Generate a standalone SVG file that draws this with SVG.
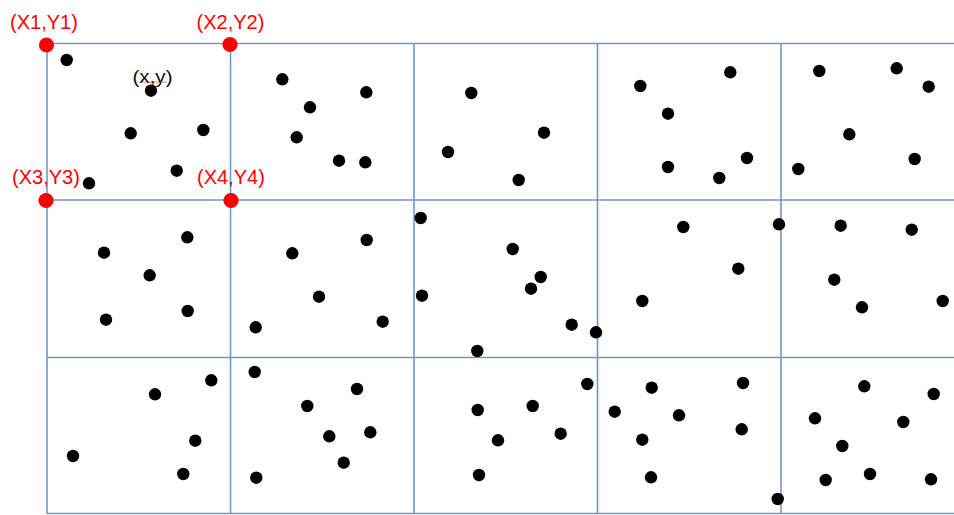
<svg xmlns="http://www.w3.org/2000/svg" width="954" height="515" viewBox="0 0 954 515">
<style>
.grid{stroke:#7096cb;stroke-width:1.6;fill:none}
.pt{fill:#000}
.corner{fill:#ff0000}
.lbl{font-family:"Liberation Sans",Arial,sans-serif;font-size:20px;fill:#ff0000;text-anchor:middle}
.xy{font-family:"Liberation Sans",Arial,sans-serif;font-size:18px;fill:#111;text-anchor:middle}
</style>
<rect width="954" height="515" fill="#fff"/>
<g id="grid" class="grid">
<line x1="47" y1="43.5" x2="954" y2="43.5"/>
<line x1="47" y1="200" x2="954" y2="200"/>
<line x1="47" y1="357.5" x2="954" y2="357.5"/>
<line x1="47" y1="513.5" x2="954" y2="513.5"/>
<line x1="47" y1="43.5" x2="47" y2="514"/>
<line x1="230.5" y1="43.5" x2="230.5" y2="514"/>
<line x1="414" y1="43.5" x2="414" y2="514"/>
<line x1="597.5" y1="43.5" x2="597.5" y2="514"/>
<line x1="781" y1="43.5" x2="781" y2="514"/>
</g>
<g id="points" class="pt">
<circle cx="66.7" cy="60" r="6.2"/>
<circle cx="151" cy="90.7" r="6.2"/>
<circle cx="130.7" cy="133.3" r="6.2"/>
<circle cx="203.3" cy="130" r="6.2"/>
<circle cx="176.7" cy="170.7" r="6.2"/>
<circle cx="89" cy="183.3" r="6.2"/>
<circle cx="282.3" cy="79.3" r="6.2"/>
<circle cx="310" cy="107.3" r="6.2"/>
<circle cx="296.7" cy="137.3" r="6.2"/>
<circle cx="366.3" cy="92.3" r="6.2"/>
<circle cx="339" cy="160.7" r="6.2"/>
<circle cx="365.3" cy="162.3" r="6.2"/>
<circle cx="471.3" cy="93" r="6.2"/>
<circle cx="544" cy="132.7" r="6.2"/>
<circle cx="448" cy="152" r="6.2"/>
<circle cx="518.7" cy="180" r="6.2"/>
<circle cx="420.7" cy="218" r="6.2"/>
<circle cx="366.7" cy="240" r="6.2"/>
<circle cx="319" cy="296.7" r="6.2"/>
<circle cx="382.7" cy="321.7" r="6.2"/>
<circle cx="422" cy="295.7" r="6.2"/>
<circle cx="512.7" cy="249" r="6.2"/>
<circle cx="540.7" cy="277" r="6.2"/>
<circle cx="531" cy="288.7" r="6.2"/>
<circle cx="571.7" cy="324.7" r="6.2"/>
<circle cx="596" cy="332.3" r="6.2"/>
<circle cx="477.3" cy="351" r="6.2"/>
<circle cx="187.3" cy="237.3" r="6.2"/>
<circle cx="104" cy="252.7" r="6.2"/>
<circle cx="149.7" cy="275.3" r="6.2"/>
<circle cx="106" cy="319.7" r="6.2"/>
<circle cx="187.7" cy="311" r="6.2"/>
<circle cx="292.3" cy="253.3" r="6.2"/>
<circle cx="255.7" cy="327.3" r="6.2"/>
<circle cx="211.3" cy="380.3" r="6.2"/>
<circle cx="155" cy="394.3" r="6.2"/>
<circle cx="195.3" cy="440.7" r="6.2"/>
<circle cx="73" cy="456" r="6.2"/>
<circle cx="183.3" cy="474" r="6.2"/>
<circle cx="254.7" cy="372" r="6.2"/>
<circle cx="307.3" cy="406" r="6.2"/>
<circle cx="256.3" cy="477.7" r="6.2"/>
<circle cx="357" cy="389" r="6.2"/>
<circle cx="329.3" cy="436.3" r="6.2"/>
<circle cx="370.3" cy="432.3" r="6.2"/>
<circle cx="343.7" cy="462.7" r="6.2"/>
<circle cx="587.3" cy="384" r="6.2"/>
<circle cx="477.7" cy="410" r="6.2"/>
<circle cx="532.7" cy="406" r="6.2"/>
<circle cx="498" cy="440.3" r="6.2"/>
<circle cx="560.7" cy="433.7" r="6.2"/>
<circle cx="479" cy="475" r="6.2"/>
<circle cx="614.7" cy="411.7" r="6.2"/>
<circle cx="730.3" cy="72.3" r="6.2"/>
<circle cx="640.3" cy="86" r="6.2"/>
<circle cx="668" cy="113.7" r="6.2"/>
<circle cx="668" cy="167" r="6.2"/>
<circle cx="747" cy="158" r="6.2"/>
<circle cx="719.3" cy="178" r="6.2"/>
<circle cx="819.3" cy="71" r="6.2"/>
<circle cx="896.7" cy="68.3" r="6.2"/>
<circle cx="928.7" cy="86.7" r="6.2"/>
<circle cx="849.3" cy="134.3" r="6.2"/>
<circle cx="914.7" cy="159" r="6.2"/>
<circle cx="798.3" cy="169" r="6.2"/>
<circle cx="683.3" cy="227" r="6.2"/>
<circle cx="779" cy="224.3" r="6.2"/>
<circle cx="738.3" cy="268.7" r="6.2"/>
<circle cx="642.3" cy="301" r="6.2"/>
<circle cx="840.7" cy="225.7" r="6.2"/>
<circle cx="911.7" cy="229.7" r="6.2"/>
<circle cx="834.3" cy="279.7" r="6.2"/>
<circle cx="862" cy="307.3" r="6.2"/>
<circle cx="942.7" cy="301" r="6.2"/>
<circle cx="651.7" cy="387.7" r="6.2"/>
<circle cx="679" cy="415.3" r="6.2"/>
<circle cx="642.3" cy="439.7" r="6.2"/>
<circle cx="651" cy="477.3" r="6.2"/>
<circle cx="743" cy="383" r="6.2"/>
<circle cx="741.7" cy="429.3" r="6.2"/>
<circle cx="777.7" cy="499" r="6.2"/>
<circle cx="864.3" cy="386.3" r="6.2"/>
<circle cx="933.7" cy="394" r="6.2"/>
<circle cx="815" cy="418.3" r="6.2"/>
<circle cx="903.3" cy="422" r="6.2"/>
<circle cx="842.3" cy="446" r="6.2"/>
<circle cx="825.7" cy="480" r="6.2"/>
<circle cx="870" cy="474" r="6.2"/>
<circle cx="931" cy="479.3" r="6.2"/>
</g>
<g id="corner1">
<circle class="corner" cx="46.5" cy="45" r="7.6"/>
<text class="lbl" x="44" y="28.5">(X1,Y1)</text>
</g>
<g id="corner2">
<circle class="corner" cx="230" cy="44.5" r="7.6"/>
<text class="lbl" x="230.5" y="28.5">(X2,Y2)</text>
</g>
<g id="corner3">
<circle class="corner" cx="46" cy="200.5" r="7.6"/>
<text class="lbl" x="46" y="183.5">(X3,Y3)</text>
</g>
<g id="corner4">
<circle class="corner" cx="231" cy="200.5" r="7.6"/>
<text class="lbl" x="231" y="183.5">(X4,Y4)</text>
</g>
<g id="point-label">
<text class="xy" x="152.5" y="82.5" textLength="40" lengthAdjust="spacingAndGlyphs">(x,y)</text>
<path d="M140 81.5 l1.5 1 1.5 -1 1.5 1 1.5 -1 1.5 1 1.5 -1 1.5 1 1.5 -1 1.5 1 1.5 -1 1.5 1 1.5 -1 1.5 1 1.5 -1 1.5 1 1.5 -1 1.5 1 1.5 -1" fill="none" stroke="#ff2020" stroke-width="0.6"/>
</g>
</svg>
